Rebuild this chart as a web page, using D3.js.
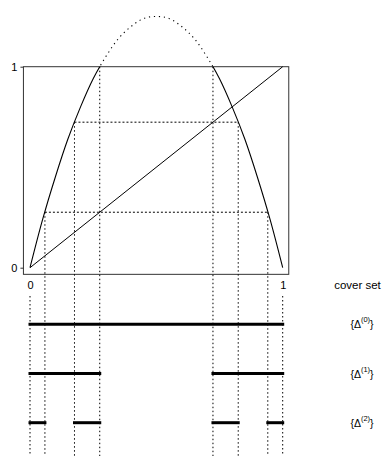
<!DOCTYPE html>
<html><head><meta charset="utf-8">
<script src="https://cdn.jsdelivr.net/npm/d3@7"></script>
<style>
html,body{margin:0;padding:0;background:#fff;}
svg{display:block;font-family:"Liberation Sans",Arial,Helvetica,sans-serif;}
</style>
</head><body>
<svg id="c" width="391" height="457"></svg>
<script>
// ---- data ----
const curveX = [0, 0.05, 0.1, 0.15, 0.2, 0.25, 0.3, 0.35, 0.4, 0.45, 0.5, 0.55, 0.6, 0.65, 0.7, 0.75, 0.8, 0.85, 0.9, 0.95, 1];
const curveY = [0, 0.24, 0.45, 0.64, 0.80, 0.94, 1.05, 1.14, 1.20, 1.24, 1.25, 1.24, 1.20, 1.14, 1.05, 0.94, 0.80, 0.64, 0.45, 0.24, 0];
const diagX = [0, 1];
const diagY = [0, 1];
const axisTicks = [0, 1];
const guideX   = [0, 0.059, 0.176, 0.276, 0.724, 0.824, 0.941, 1];
const guideTop = [null, 0.276, 0.724, 1, 1, 0.724, 0.276, null];
const levelY = [0.724, 0.276];
const levelSpan = [[0.176, 0.824], [0.059, 0.941]];
const coverLevels = [0, 1, 2];
const coverSets = [
  [[0, 1]],
  [[0, 0.276], [0.724, 1]],
  [[0, 0.059], [0.176, 0.276], [0.724, 0.824], [0.941, 1]]
];
const coverTitle = "cover set";

// ---- scales ----
const x = d3.scaleLinear().domain([0, 1]).range([30, 282.7]);
const y = d3.scaleLinear().domain([0, 1]).range([267.7, 66.7]);
const row = d3.scalePoint().domain(coverLevels).range([324.3, 422.7]);

const svg = d3.select("#c");
const defs = svg.append("defs");
defs.append("clipPath").attr("id", "below").append("rect")
  .attr("x", 0).attr("y", y(1)).attr("width", 391).attr("height", 457);
defs.append("clipPath").attr("id", "above").append("rect")
  .attr("x", 0).attr("y", 0).attr("width", 391).attr("height", y(1));

// ---- frame ----
const bx0 = x(-0.026), bx1 = x(1.024), by0 = y(1), by1 = y(-0.033);
svg.append("rect").attr("x", bx0).attr("y", by0)
  .attr("width", bx1 - bx0).attr("height", by1 - by0)
  .attr("fill", "none").attr("stroke", "#333").attr("stroke-width", 1);

// axes
const gl = svg.append("g").attr("transform", `translate(${bx0},0)`)
  .call(d3.axisLeft(y).tickValues(axisTicks).tickSize(3).tickPadding(3).tickFormat(d3.format("d")));
gl.select(".domain").remove();
gl.selectAll("line").attr("stroke", "#333");
gl.selectAll("text").attr("font-size", 11).attr("fill", "#000").style("font-family", "inherit");

const gb = svg.append("g").attr("transform", `translate(0,${by1})`)
  .call(d3.axisBottom(x).tickValues(axisTicks).tickSize(0).tickPadding(7).tickFormat(d3.format("d")));
gb.select(".domain").remove();
gb.selectAll("text").attr("font-size", 11).attr("fill", "#000").style("font-family", "inherit");

// ---- guide lines ----
svg.append("g").selectAll("line").data(levelY).join("line")
  .attr("x1", (d, i) => x(levelSpan[i][0])).attr("x2", (d, i) => x(levelSpan[i][1]))
  .attr("y1", d => y(d)).attr("y2", d => y(d))
  .attr("stroke", "#000").attr("stroke-width", 1).attr("stroke-dasharray", "2,2");

svg.append("g").selectAll("line").data(guideX).join("line")
  .attr("x1", d => x(d)).attr("x2", d => x(d))
  .attr("y1", (d, i) => guideTop[i] == null ? 296 : y(guideTop[i]))
  .attr("y2", 456)
  .attr("stroke", "#000").attr("stroke-width", 1).attr("stroke-dasharray", "1.5,2.5");

// ---- curves ----
const pts = curveX.map((v, i) => [v, curveY[i]]);
const line = d3.line().x(d => x(d[0])).y(d => y(d[1])).curve(d3.curveCatmullRom.alpha(0.5));
svg.append("path").attr("d", line(pts)).attr("clip-path", "url(#below)")
  .attr("fill", "none").attr("stroke", "#000").attr("stroke-width", 1.1);
svg.append("path").attr("d", line(pts)).attr("clip-path", "url(#above)")
  .attr("fill", "none").attr("stroke", "#000").attr("stroke-width", 1.1)
  .attr("stroke-dasharray", "1.2,3.8");

svg.append("path").attr("d", d3.line().x(d => x(d[0])).y(d => y(d[1]))(diagX.map((v, i) => [v, diagY[i]])))
  .attr("fill", "none").attr("stroke", "#000").attr("stroke-width", 1);

// ---- cover sets ----
coverSets.forEach((segs, k) => {
  svg.append("g").selectAll("line").data(segs).join("line")
    .attr("x1", d => x(d[0])).attr("x2", d => x(d[1]))
    .attr("y1", row(coverLevels[k])).attr("y2", row(coverLevels[k]))
    .attr("stroke", "#000").attr("stroke-width", 3).attr("stroke-linecap", "square");
});

svg.append("text").attr("x", 357.5).attr("y", 289).attr("text-anchor", "middle")
  .attr("font-size", 11.5).attr("fill", "#000").text(coverTitle);

coverLevels.forEach(k => {
  const t = svg.append("text").attr("x", 362).attr("y", row(k) + 4)
    .attr("text-anchor", "middle").attr("fill", "#000").attr("font-size", 10.5);
  t.append("tspan").text("{\u0394");
  t.append("tspan").attr("dy", -6).attr("font-size", 7.5).text(`(${k})`);
  t.append("tspan").attr("dy", 6).text("}");
});
</script>
</body></html>
